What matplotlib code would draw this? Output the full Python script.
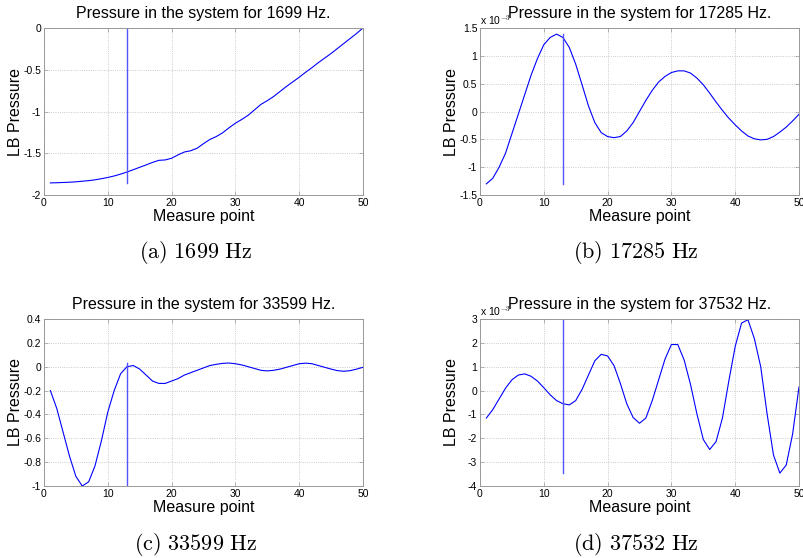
import numpy as np
import matplotlib.pyplot as plt
from matplotlib.ticker import FuncFormatter

plt.rcParams['font.family'] = ['Liberation Sans', 'DejaVu Sans']
plt.rcParams['mathtext.fontset'] = 'cm'

# measure points 1..50, source marker at point 13
points = np.arange(1, 51)
source_point = 13

# LB pressure at 1699 Hz
p_1699 = [-1.855, -1.853, -1.850, -1.847, -1.842, -1.835, -1.828, -1.818, -1.805, -1.790,
          -1.772, -1.750, -1.725, -1.697, -1.668, -1.640, -1.610, -1.585, -1.580, -1.560,
          -1.520, -1.485, -1.470, -1.440, -1.385, -1.335, -1.300, -1.255, -1.195, -1.140,
          -1.095, -1.045, -0.980, -0.915, -0.870, -0.820, -0.760, -0.700, -0.645, -0.590,
          -0.530, -0.475, -0.415, -0.360, -0.305, -0.245, -0.185, -0.125, -0.065, 0.0]

# LB pressure at 17285 Hz (x 1e-3)
p_17285 = [-1.30, -1.20, -1.00, -0.75, -0.40, -0.05, 0.30, 0.65, 0.95, 1.20,
           1.33, 1.39, 1.33, 1.15, 0.85, 0.48, 0.10, -0.20, -0.38, -0.45,
           -0.47, -0.45, -0.35, -0.20, 0.00, 0.20, 0.38, 0.53, 0.63, 0.70,
           0.73, 0.73, 0.69, 0.60, 0.48, 0.33, 0.17, 0.02, -0.12, -0.24,
           -0.35, -0.44, -0.49, -0.51, -0.50, -0.45, -0.37, -0.28, -0.17, -0.05]

# LB pressure at 33599 Hz
p_33599 = [-0.20, -0.35, -0.55, -0.75, -0.92, -1.00, -0.965, -0.83, -0.62, -0.38,
           -0.20, -0.06, 0.00, 0.01, -0.02, -0.07, -0.12, -0.14, -0.14, -0.12,
           -0.10, -0.07, -0.05, -0.03, -0.01, 0.01, 0.02, 0.028, 0.031, 0.025,
           0.015, 0.00, -0.015, -0.03, -0.035, -0.03, -0.02, -0.005, 0.01, 0.025,
           0.03, 0.025, 0.01, -0.005, -0.02, -0.033, -0.038, -0.033, -0.02, -0.005]

# LB pressure at 37532 Hz (x 1e-3)
p_37532 = [-1.15, -0.80, -0.35, 0.10, 0.45, 0.65, 0.70, 0.60, 0.40, 0.12,
           -0.18, -0.42, -0.55, -0.60, -0.42, 0.05, 0.65, 1.25, 1.52, 1.45,
           1.05, 0.30, -0.55, -1.13, -1.37, -1.15, -0.42, 0.45, 1.32, 1.93,
           1.93, 1.28, 0.25, -0.98, -2.05, -2.47, -2.14, -1.15, 0.40, 1.85,
           2.83, 2.97, 2.18, 1.00, -0.98, -2.70, -3.46, -3.12, -1.82, 0.15]

panels = [
    dict(freq=1699, vals=np.array(p_1699), scale=1, ylim=(-2, 0),
         yticks=np.arange(-2, 0.01, 0.5), letter='a', rect=(44, 28), cap=196),
    dict(freq=17285, vals=np.array(p_17285) * 1e-3, scale=1e-3, ylim=(-1.5e-3, 1.5e-3),
         yticks=np.arange(-1.5, 1.51, 0.5) * 1e-3, letter='b', rect=(480, 28), cap=636),
    dict(freq=33599, vals=np.array(p_33599), scale=1, ylim=(-1, 0.4),
         yticks=np.arange(-1, 0.41, 0.2), letter='c', rect=(44, 319), cap=196),
    dict(freq=37532, vals=np.array(p_37532) * 1e-3, scale=1e-3, ylim=(-4e-3, 3e-3),
         yticks=np.arange(-4, 3.1, 1) * 1e-3, letter='d', rect=(480, 319), cap=636),
]

W, H = 804, 558
fig = plt.figure(figsize=(W / 100, H / 100), dpi=100)
aw, ah = 319, 167

for p in panels:
    x0, y0 = p['rect']
    ax = fig.add_axes([x0 / W, 1 - (y0 + ah) / H, aw / W, ah / H])
    v = p['vals']
    ax.plot(points, v, color='#0000ff', lw=0.8)
    ax.plot([source_point, source_point], [v.min(), v.max()], color='#5555ff', lw=1.0)
    ax.set_xlim(0, 50)
    ax.set_ylim(*p['ylim'])
    ax.set_xticks(np.arange(0, 51, 10))
    ax.set_yticks(p['yticks'])
    s = p['scale']
    ax.yaxis.set_major_formatter(
        FuncFormatter(lambda t, pos, s=s: '%g' % (round(t / s, 6) + 0.0)))
    ax.grid(True, ls=':', color='#bbbbbb', lw=0.6)
    ax.tick_params(direction='in', length=3, width=0.5, labelsize=7.5, pad=2,
                   top=True, right=True, color='#999999', labelcolor='black')
    for sp in ax.spines.values():
        sp.set_linewidth(0.7)
        sp.set_color('#999999')
    ax.set_title('Pressure in the system for %d Hz.' % p['freq'], fontsize=11.5, pad=7)
    ax.set_xlabel('Measure point', fontsize=11.5, labelpad=1)
    ax.set_ylabel('LB Pressure', fontsize=11.5)
    ax.yaxis.set_label_coords(-21 / aw, 0.5)
    if s != 1:
        ax.text(0.0, 1.005, r'x 10$^{-3}$', transform=ax.transAxes, fontsize=7.5,
                ha='left', va='bottom', family='Liberation Sans')
    cy = 1 - (y0 + ah + 58) / H
    fig.text(p['cap'] / W, cy, r'$\mathrm{(%s)\ %d\ Hz}$' % (p['letter'], p['freq']),
             fontsize=16, ha='center', va='center')

fig.savefig('out.png', dpi=100)
